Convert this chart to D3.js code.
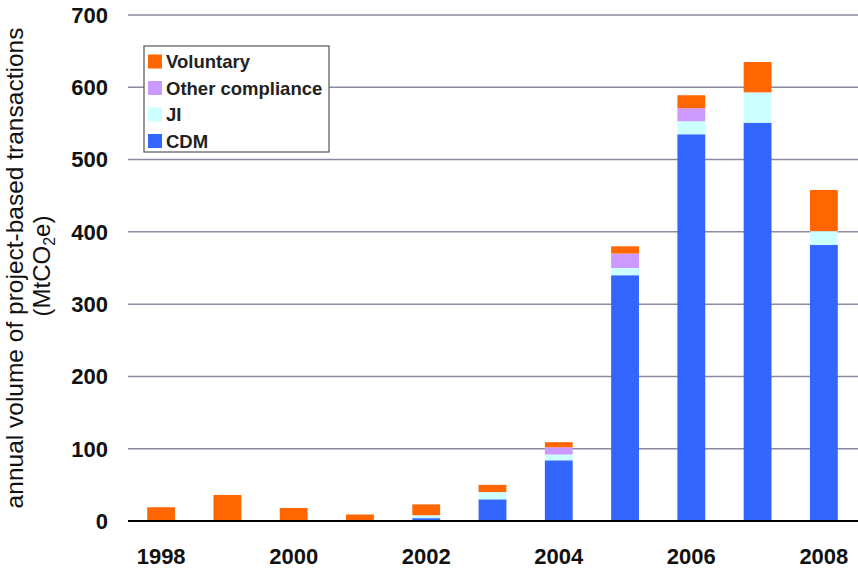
<!DOCTYPE html>
<html>
<head>
<meta charset="utf-8">
<script src="https://cdn.jsdelivr.net/npm/d3@7"></script>
<style>
  html, body { margin: 0; padding: 0; background: #fff; }
  svg { display: block; font-family: "Liberation Sans", Arial, sans-serif; }
</style>
</head>
<body>
<svg id="chart" width="858" height="571"></svg>
<script>
const years = [1998, 1999, 2000, 2001, 2002, 2003, 2004, 2005, 2006, 2007, 2008];
const cdm        = [0, 0, 0, 0, 4, 30, 84, 340, 535, 551, 382];
const ji         = [0, 0, 0, 0, 4, 10, 8, 10, 18, 42, 19];
const otherComp  = [0, 0, 0, 0, 0, 0, 10, 20, 18, 0, 0];
const voluntary  = [19, 36, 18, 9, 15, 10, 7, 10, 18, 42, 57];
const seriesNames = ["CDM", "JI", "Other compliance", "Voluntary"];
const legendOrder = ["Voluntary", "Other compliance", "JI", "CDM"];
const xTickYears = [1998, 2000, 2002, 2004, 2006, 2008];
const yTicks = [0, 100, 200, 300, 400, 500, 600, 700];

const colors = {
  "CDM": "#3366FF",
  "JI": "#CCFFFF",
  "Other compliance": "#CC99FF",
  "Voluntary": "#FF6600"
};

const table = years.map((y, i) => ({
  year: y,
  "CDM": cdm[i],
  "JI": ji[i],
  "Other compliance": otherComp[i],
  "Voluntary": voluntary[i]
}));

const svg = d3.select("#chart");
const x = d3.scaleBand().domain(years).range([128, 857]).paddingInner(0.58).paddingOuter(0.29);
const y = d3.scaleLinear().domain([0, 700]).range([521, 15]);

// gridlines
svg.append("g").selectAll("line").data(yTicks.filter(d => d > 0)).join("line")
  .attr("x1", 128).attr("x2", 858)
  .attr("y1", d => y(d)).attr("y2", d => y(d))
  .attr("stroke", "#8a8aa2").attr("stroke-width", 1.5);

// y tick labels
svg.append("g").selectAll("text").data(yTicks).join("text")
  .attr("x", 108).attr("y", d => y(d)).attr("dy", "0.36em")
  .attr("text-anchor", "end")
  .attr("font-size", 22).attr("font-weight", "bold").attr("fill", "#111")
  .text(d => d);

// stacked bars
const stack = d3.stack().keys(seriesNames)(table);
svg.append("g").selectAll("g").data(stack).join("g")
  .attr("fill", d => colors[d.key])
  .selectAll("rect").data(d => d).join("rect")
  .attr("x", d => x(d.data.year))
  .attr("width", x.bandwidth())
  .attr("y", d => y(d[1]))
  .attr("height", d => Math.max(0, y(d[0]) - y(d[1])));

// baseline
svg.append("line")
  .attr("x1", 128).attr("x2", 858)
  .attr("y1", y(0)).attr("y2", y(0))
  .attr("stroke", "#000").attr("stroke-width", 2);

// x tick labels
svg.append("g").selectAll("text").data(xTickYears).join("text")
  .attr("x", d => x(d) + x.bandwidth() / 2)
  .attr("y", 564)
  .attr("text-anchor", "middle")
  .attr("font-size", 22).attr("font-weight", "bold").attr("fill", "#111")
  .text(d => d);

// y-axis title
svg.append("text")
  .attr("transform", "translate(22.5,268) rotate(-90)")
  .attr("text-anchor", "middle")
  .attr("font-size", 24.5).attr("fill", "#111")
  .text("annual volume of project-based transactions");
const t2 = svg.append("text")
  .attr("transform", "translate(50,266) rotate(-90)")
  .attr("text-anchor", "middle")
  .attr("font-size", 24).attr("fill", "#111");
t2.append("tspan").text("(MtCO");
t2.append("tspan").attr("font-size", 16).attr("dy", 5).text("2");
t2.append("tspan").attr("dy", -5).text("e)");

// legend
const lg = svg.append("g");
lg.append("rect")
  .attr("x", 144).attr("y", 46).attr("width", 185).attr("height", 106)
  .attr("fill", "#fff").attr("stroke", "#555").attr("stroke-width", 1.2);
const items = lg.selectAll("g.item").data(legendOrder).join("g").attr("class", "item")
  .attr("transform", (d, i) => `translate(0, ${61.5 + i * 26.5})`);
items.append("rect")
  .attr("x", 148).attr("y", -7).attr("width", 14).attr("height", 14)
  .attr("fill", d => colors[d]);
items.append("text")
  .attr("x", 166).attr("y", 0).attr("dy", "0.36em")
  .attr("font-size", 18.5).attr("font-weight", "bold").attr("fill", "#222")
  .text(d => d);
</script>
</body>
</html>
